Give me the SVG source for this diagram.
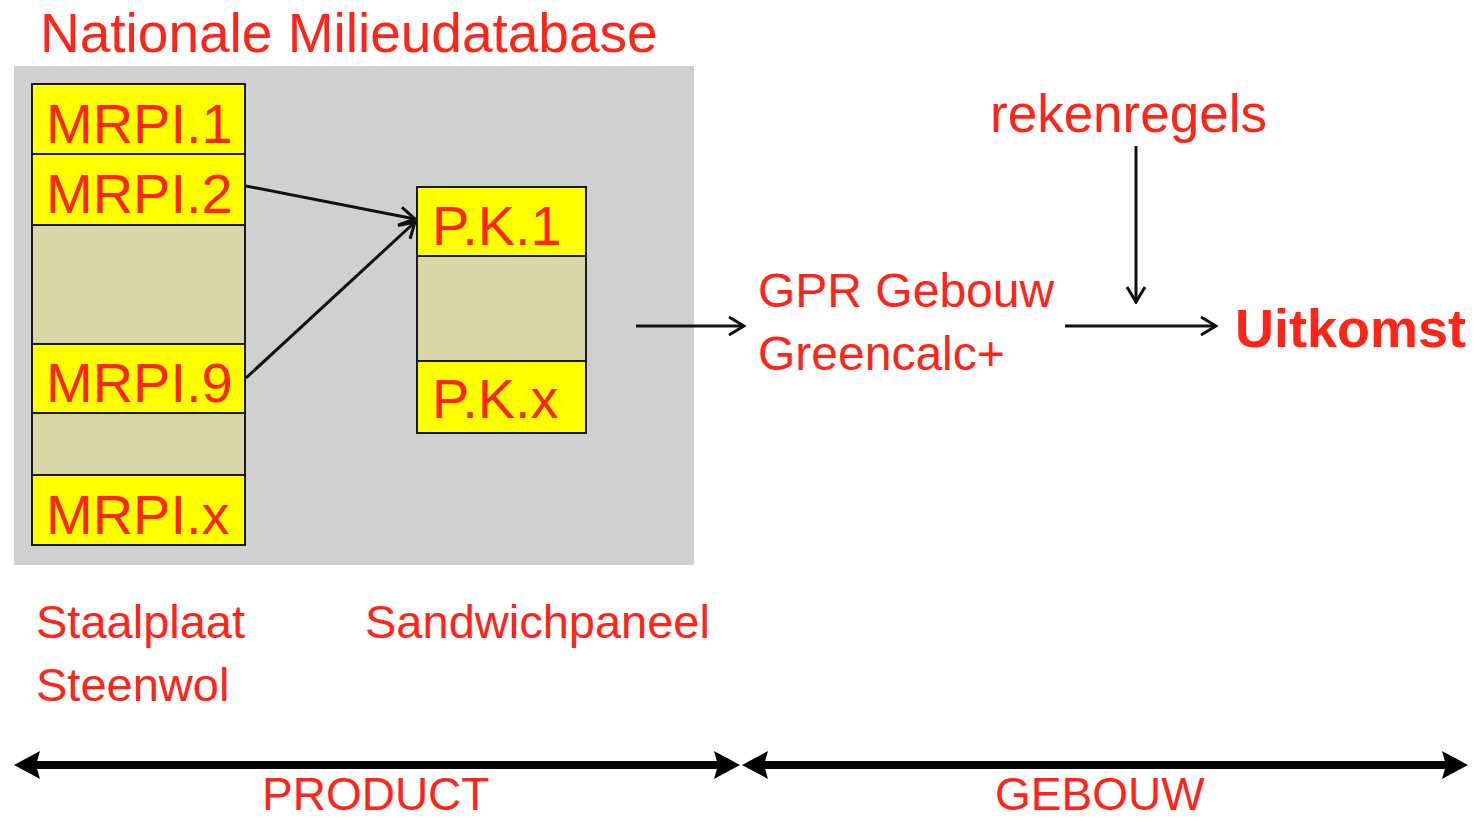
<svg xmlns="http://www.w3.org/2000/svg" width="1479" height="820" viewBox="0 0 1479 820">
<defs>
<style>
.t{font-family:"Liberation Sans",Arial,sans-serif;fill:#ff2418}
.cell{fill:#ffff00;stroke:#1a1a1a;stroke-width:2}
.empty{fill:#d9d6a8;stroke:#1a1a1a;stroke-width:2}
.con{stroke:#111;stroke-width:3;fill:none}
.bar{stroke:#000;stroke-width:8;fill:none}
</style>
<marker id="open" viewBox="0 0 22 22" refX="20" refY="11" markerWidth="22" markerHeight="22" markerUnits="userSpaceOnUse" orient="auto">
<path d="M5,2 L20,11 L5,20" fill="none" stroke="#111" stroke-width="3"/>
</marker>
<marker id="solid" viewBox="0 0 26 28" refX="11" refY="14" markerWidth="26" markerHeight="28" markerUnits="userSpaceOnUse" orient="auto-start-reverse">
<path d="M0,0 L26,14 L0,28 L4,14 Z" fill="#000"/>
</marker>
</defs>
<rect width="1479" height="820" fill="#ffffff"/>
<g id="panel">
<rect x="14" y="66" width="680" height="499" fill="#d0d0d0"/>
<text class="t" x="40" y="52" font-size="55">Nationale Milieudatabase</text>
</g>
<g id="mrpi1"><rect class="cell" x="32" y="84" width="213" height="70"/><text class="t" x="46" y="143" font-size="56">MRPI.1</text></g>
<g id="mrpi2"><rect class="cell" x="32" y="154" width="213" height="71"/><text class="t" x="46" y="213" font-size="56">MRPI.2</text></g>
<g id="mrpi-empty1"><rect class="empty" x="32" y="225" width="213" height="119"/></g>
<g id="mrpi9"><rect class="cell" x="32" y="344" width="213" height="69"/><text class="t" x="46" y="402" font-size="56">MRPI.9</text></g>
<g id="mrpi-empty2"><rect class="empty" x="32" y="413" width="213" height="62"/></g>
<g id="mrpix"><rect class="cell" x="32" y="475" width="213" height="70"/><text class="t" x="46" y="534" font-size="56">MRPI.x</text></g>
<g id="pk1"><rect class="cell" x="417" y="187" width="169" height="69"/><text class="t" x="432" y="245" font-size="56">P.K.1</text></g>
<g id="pk-empty"><rect class="empty" x="417" y="256" width="169" height="105"/></g>
<g id="pkx"><rect class="cell" x="417" y="361" width="169" height="72"/><text class="t" x="432" y="418" font-size="56">P.K.x</text></g>
<g id="gpr"><text class="t" x="758" y="307" font-size="48">GPR Gebouw</text><text class="t" x="758" y="370" font-size="48">Greencalc+</text></g>
<g id="rekenregels"><text class="t" x="990" y="132" font-size="53">rekenregels</text></g>
<g id="uitkomst"><text class="t" x="1235" y="347" font-size="54" font-weight="bold">Uitkomst</text></g>
<g id="labels">
<text class="t" x="36" y="638" font-size="47">Staalplaat</text>
<text class="t" x="36" y="701" font-size="47">Steenwol</text>
<text class="t" x="365" y="638" font-size="47">Sandwichpaneel</text>
<text class="t" x="262" y="810" font-size="46">PRODUCT</text>
<text class="t" x="995" y="810" font-size="46">GEBOUW</text>
</g>
<g id="connectors">
<line class="con" x1="246" y1="186" x2="415" y2="219" marker-end="url(#open)"/>
<line class="con" x1="246" y1="378" x2="415" y2="222" marker-end="url(#open)"/>
<line class="con" x1="636" y1="326" x2="744" y2="326" marker-end="url(#open)"/>
<line class="con" x1="1065" y1="326" x2="1216" y2="326" marker-end="url(#open)"/>
<line class="con" x1="1136" y1="146" x2="1136" y2="302" marker-end="url(#open)"/>
<line class="bar" x1="29" y1="765" x2="725" y2="765" marker-start="url(#solid)" marker-end="url(#solid)"/>
<line class="bar" x1="757" y1="765" x2="1453" y2="765" marker-start="url(#solid)" marker-end="url(#solid)"/>
</g>
</svg>
